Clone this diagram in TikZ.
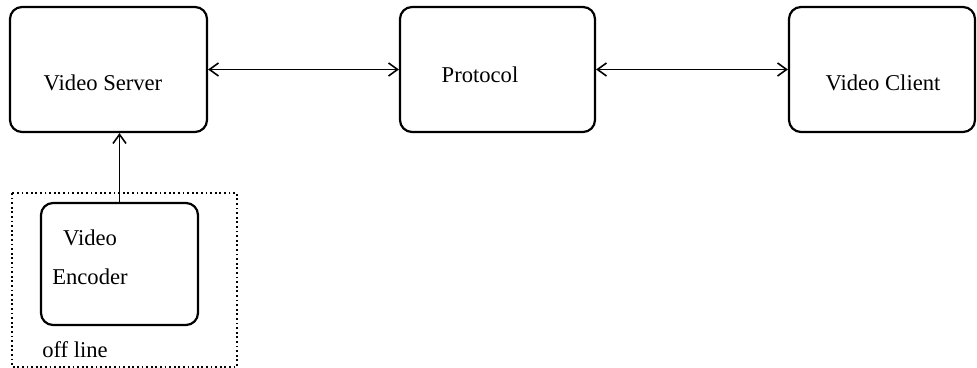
\documentclass[tikz,border=0pt]{standalone}
\usepackage{fontspec}
\setmainfont{Liberation Serif}
\usepackage{tikz}
\usetikzlibrary{positioning, arrows.meta, calc}
\tikzset{
    base/.style={
        font=\fontsize{11.3}{13.5}\selectfont,
        align=center
    },
    block/.style={
        rectangle,
        rounded corners=6pt,
        draw=black,
        line width=1.1pt,
        inner sep=0pt
    },
    caption/.style={
        base,
        inner sep=1pt
    },
    link/.style={
        {Straight Barb[length=4.5pt,width=6.5pt]}-{Straight Barb[length=4.5pt,width=6.5pt]},
        line width=0.8pt
    },
    feed/.style={
        -{Straight Barb[length=4.5pt,width=6.5pt]},
        line width=0.8pt
    },
    frame/.style={
        draw=black,
        line width=0.9pt,
        dash pattern=on 0.9pt off 1.4pt
    }
}

\begin{document}
\begin{tikzpicture}[x=0.5pt, y=-0.5pt]
    \useasboundingbox (0,0) rectangle (977,368);

    % Boxes
    \node[block, minimum width=98.5pt, minimum height=62.5pt] (server) at (108.5,69.5) {};
    \node[block, minimum width=97.5pt, minimum height=62.5pt] (protocol) at (497.5,69.5) {};
    \node[block, minimum width=93pt, minimum height=62.5pt] (client) at (882,69.5) {};
    \node[block, minimum width=78.5pt, minimum height=61pt] (encoder) at (119.5,264) {};

    % Texts
    \node[caption] (serverText) at (103,83) {Video Server};
    \node[caption] (protocolText) at (480,75) {Protocol};
    \node[caption] (clientText) at (883,83) {Video Client};
    \node[caption] (encoderText) at (90,257) {Video\\[6pt]Encoder};

    % Off line area
    \draw[frame] (12,193) rectangle (237,367);
    \node[caption] (offline) at (75,350) {off line};

    % Links
    \draw[link] (server.east) -- (protocol.west);
    \draw[link] (protocol.east) -- (client.west);
    \draw[feed] (encoder.north) -- (encoder.north |- server.south);

\end{tikzpicture}
\end{document}
